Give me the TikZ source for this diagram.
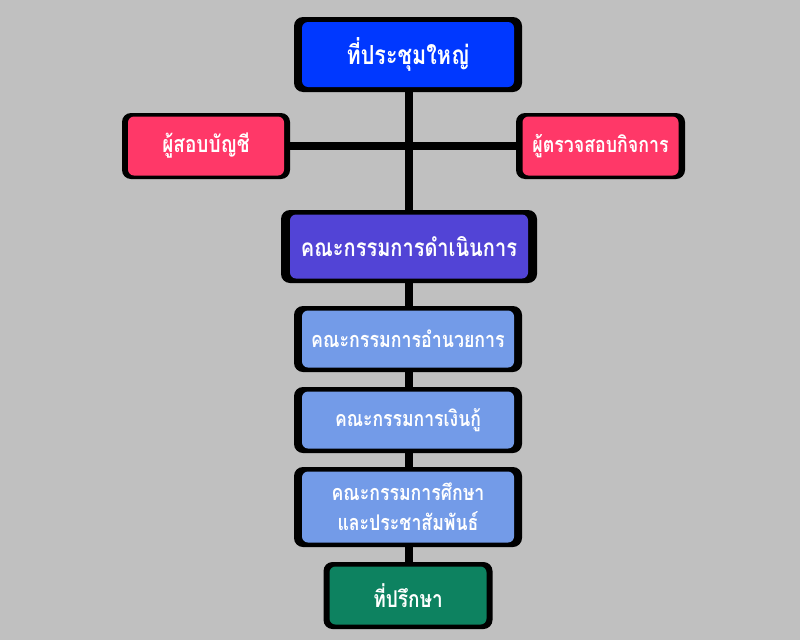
\documentclass[tikz,border=0pt]{standalone}
\usepackage{fontspec}
\newfontfamily\thaifont[Script=Thai]{Loma}
\newcommand{\tall}[1]{\scalebox{1}[1.22]{#1}}
\definecolor{bg}{RGB}{192,192,192}
\definecolor{cblue}{RGB}{0,56,255}
\definecolor{cpink}{RGB}{255,56,104}
\definecolor{cpurple}{RGB}{82,68,214}
\definecolor{clight}{RGB}{115,155,232}
\definecolor{cgreen}{RGB}{13,130,96}
\begin{document}
\begin{tikzpicture}[x=1pt,y=-1pt,
  outerbox/.style={fill=black,rounded corners=9pt,inner sep=0pt,draw=none},
  innerbox/.style={rounded corners=6pt,inner sep=0pt,draw=none,text=white,
    font=\thaifont\bfseries,align=center},
  link/.style={line width=7.5pt,draw=black}]
\fill[bg] (0,0) rectangle (800,640);
\useasboundingbox (0,0) rectangle (800,640);
% outer frames
\node[outerbox,minimum width=228pt,minimum height=75pt] (top) at (408,54.5) {};
\node[outerbox,minimum width=168pt,minimum height=66pt] (aud) at (206,146) {};
\node[outerbox,minimum width=169pt,minimum height=66pt] (insp) at (600.5,146) {};
\node[outerbox,minimum width=256pt,minimum height=73pt] (exec) at (409,246.5) {};
\node[outerbox,minimum width=228pt,minimum height=66pt] (dir) at (408,339) {};
\node[outerbox,minimum width=228pt,minimum height=66pt] (loan) at (408,420) {};
\node[outerbox,minimum width=228pt,minimum height=80pt] (edu) at (408,507) {};
\node[outerbox,minimum width=169pt,minimum height=67pt] (adv) at (408,595.5) {};
\coordinate (spine) at (409,0);
% connectors
\draw[link] (aud.east) -- (insp.west);
\draw[link] (top.south -| spine) -- (exec.north -| spine);
\draw[link] (exec.south -| spine) -- (dir.north -| spine);
\draw[link] (dir.south -| spine) -- (loan.north -| spine);
\draw[link] (loan.south -| spine) -- (edu.north -| spine);
\draw[link] (edu.south -| spine) -- (adv.north -| spine);
% inner boxes
\node[innerbox,fill=cblue,minimum width=212pt,minimum height=65pt,font=\thaifont\bfseries\fontsize{21.5}{26}\selectfont] (topT) at (top) {\tall{ที่ประชุมใหญ่}};
\node[innerbox,fill=cpink,minimum width=156pt,minimum height=59pt,font=\thaifont\bfseries\fontsize{19}{24}\selectfont] (audT) at (aud) {\tall{ผู้สอบบัญชี}};
\node[innerbox,fill=cpink,minimum width=156pt,minimum height=59pt,font=\thaifont\bfseries\fontsize{17.8}{22}\selectfont] (inspT) at (insp) {\tall{ผู้ตรวจสอบกิจการ}};
\node[innerbox,fill=cpurple,minimum width=238pt,minimum height=64pt,font=\thaifont\bfseries\fontsize{20}{25}\selectfont] (execT) at (exec) {\tall{คณะกรรมการดำเนินการ}};
\node[innerbox,fill=clight,minimum width=212pt,minimum height=57pt,font=\thaifont\bfseries\fontsize{17.8}{22}\selectfont] (dirT) at (dir) {\tall{คณะกรรมการอำนวยการ}};
\node[innerbox,fill=clight,minimum width=212pt,minimum height=57pt,font=\thaifont\bfseries\fontsize{17.6}{22}\selectfont] (loanT) at (loan) {\tall{คณะกรรมการเงินกู้}};
\node[innerbox,fill=clight,minimum width=212pt,minimum height=71pt,font=\thaifont\bfseries\fontsize{17.7}{30}\selectfont] (eduT) at (edu) {\tall{คณะกรรมการศึกษา}\\\tall{และประชาสัมพันธ์}};
\node[innerbox,fill=cgreen,minimum width=157pt,minimum height=58pt,font=\thaifont\bfseries\fontsize{19}{24}\selectfont] (advT) at (adv) {\tall{ที่ปรึกษา}};
\end{tikzpicture}
\end{document}
